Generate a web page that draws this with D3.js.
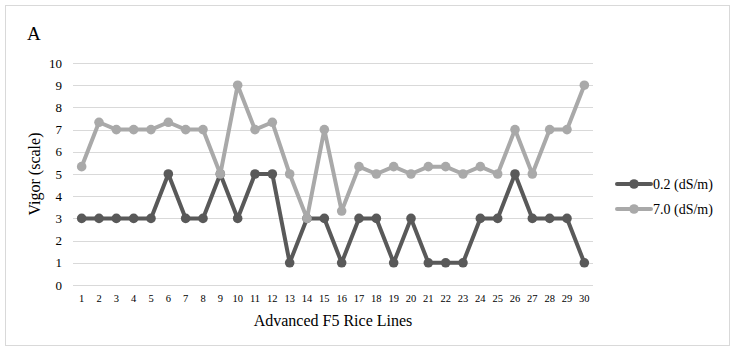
<!DOCTYPE html>
<html>
<head>
<meta charset="utf-8">
<script src="https://cdn.jsdelivr.net/npm/d3@7"></script>
<style>
  body { margin: 0; background: #fff; }
  text { font-family: "Liberation Serif", "Times New Roman", serif; }
</style>
</head>
<body>
<svg id="chart" width="735" height="352"></svg>
<script>
const lines = d3.range(1, 31).map(String);
const lowSalinity = [3, 3, 3, 3, 3, 5, 3, 3, 5, 3, 5, 5, 1, 3, 3, 1, 3, 3, 1, 3, 1, 1, 1, 3, 3, 5, 3, 3, 3, 1];
const highSalinity = [5.33, 7.33, 7, 7, 7, 7.33, 7, 7, 5, 9, 7, 7.33, 5, 3, 7, 3.33, 5.33, 5, 5.33, 5, 5.33, 5.33, 5, 5.33, 5, 7, 5, 7, 7, 9];
const seriesNames = ["0.2 (dS/m)", "7.0 (dS/m)"];
const yTicks = d3.range(0, 11);

const serif = "Liberation Serif, Times New Roman, serif";
const colors = ["#595959", "#a9a9a9"];
const margin = { top: 63, right: 142, bottom: 67, left: 73 };
const width = 735 - margin.left - margin.right;
const height = 352 - margin.top - margin.bottom;

const svg = d3.select("#chart");

// outer frame
svg.append("rect")
  .attr("x", 5.5).attr("y", 5.5)
  .attr("width", 724).attr("height", 340)
  .attr("fill", "none")
  .attr("stroke", "#d9d9d9");

svg.append("text")
  .attr("x", 27).attr("y", 40)
  .attr("font-family", serif)
  .style("font-size", "19px")
  .text("A");

const g = svg.append("g")
  .attr("transform", `translate(${margin.left},${margin.top})`);

const x = d3.scaleBand().domain(lines).range([0, width]);
const y = d3.scaleLinear().domain([0, 10]).range([height, 0]);

// gridlines
g.append("g")
  .selectAll("line")
  .data(yTicks)
  .join("line")
  .attr("x1", 0).attr("x2", width)
  .attr("y1", d => Math.round(y(d)) + 0.5)
  .attr("y2", d => Math.round(y(d)) + 0.5)
  .attr("stroke", "#d9d9d9");

const yAxis = g.append("g")
  .call(d3.axisLeft(y).tickValues(yTicks).tickSize(0).tickPadding(11));
yAxis.attr("font-family", serif);
yAxis.select(".domain").remove();
yAxis.selectAll("text")
  .style("font-size", "13px")
  .attr("fill", "#000");

const xAxis = g.append("g")
  .attr("transform", `translate(0,${height})`)
  .call(d3.axisBottom(x).tickSize(0).tickPadding(10));
xAxis.attr("font-family", serif);
xAxis.select(".domain").remove();
xAxis.selectAll("text")
  .style("font-size", "10.5px")
  .attr("fill", "#000");

const line = d3.line()
  .x((d, i) => x(lines[i]) + x.bandwidth() / 2)
  .y(d => y(d));

[lowSalinity, highSalinity].forEach((vals, k) => {
  g.append("path")
    .datum(vals)
    .attr("fill", "none")
    .attr("stroke", colors[k])
    .attr("stroke-width", 4)
    .attr("stroke-linejoin", "round")
    .attr("d", line);

  g.append("g")
    .selectAll("circle")
    .data(vals)
    .join("circle")
    .attr("cx", (d, i) => x(lines[i]) + x.bandwidth() / 2)
    .attr("cy", d => y(d))
    .attr("r", 4.8)
    .attr("fill", colors[k]);
});

// axis titles
svg.append("text")
  .attr("transform", `translate(40,${margin.top + height / 2}) rotate(-90)`)
  .attr("text-anchor", "middle")
  .attr("font-family", serif)
  .style("font-size", "16px")
  .text("Vigor (scale)");

svg.append("text")
  .attr("x", margin.left + width / 2)
  .attr("y", 326)
  .attr("text-anchor", "middle")
  .attr("font-family", serif)
  .style("font-size", "16px")
  .text("Advanced F5 Rice Lines");

// legend
const legend = svg.append("g").attr("transform", "translate(617,184)");
seriesNames.forEach((name, k) => {
  const row = legend.append("g").attr("transform", `translate(0,${k * 25})`);
  row.append("line")
    .attr("x1", 0).attr("x2", 34)
    .attr("stroke", colors[k])
    .attr("stroke-width", 4)
    .attr("stroke-linecap", "round");
  row.append("circle")
    .attr("cx", 17).attr("r", 4.8)
    .attr("fill", colors[k]);
  row.append("text")
    .attr("x", 36).attr("y", 5)
    .attr("font-family", serif)
    .style("font-size", "14px")
    .text(name);
});
</script>
</body>
</html>
